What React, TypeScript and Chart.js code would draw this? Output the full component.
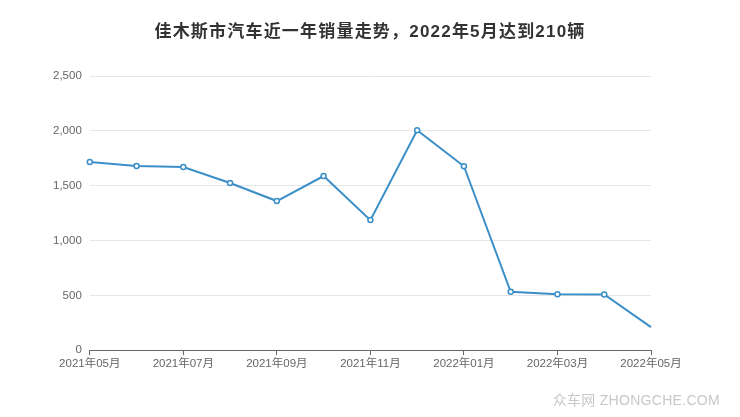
import React, { useEffect, useRef } from "react";
import { Chart, registerables } from "chart.js";

Chart.register(...registerables);

const titleText = "佳木斯市汽车近一年销量走势，2022年5月达到210辆";
const categories = [
  "2021年05月", "2021年06月", "2021年07月", "2021年08月", "2021年09月", "2021年10月",
  "2021年11月", "2021年12月", "2022年01月", "2022年02月", "2022年03月", "2022年04月", "2022年05月",
];
const sales = [1715, 1680, 1670, 1524, 1360, 1588, 1186, 2005, 1677, 532, 510, 508, 210];
const yTicks = [0, 500, 1000, 1500, 2000, 2500];

const FONT = "'Liberation Sans', Arial, 'Noto Sans CJK SC', sans-serif";
const LINE = "#3a8fc8";

export default function App() {
  const ref = useRef<HTMLCanvasElement>(null);
  useEffect(() => {
    if (!ref.current) return;
    const chart = new Chart(ref.current, {
      type: "line",
      data: {
        labels: categories,
        datasets: [
          {
            data: sales,
            borderColor: LINE,
            borderWidth: 2,
            backgroundColor: "#ffffff",
            pointBackgroundColor: "#ffffff",
            pointBorderColor: LINE,
            pointBorderWidth: 1.5,
            pointRadius: (ctx: any) => (ctx.dataIndex === sales.length - 1 ? 0 : 2.5),
            tension: 0,
            fill: false,
          },
        ],
      },
      options: {
        animation: false,
        responsive: false,
        layout: { padding: { left: 45, right: 89, top: 76, bottom: 44 } },
        plugins: {
          legend: { display: false },
          tooltip: { enabled: false },
          title: { display: false },
        },
        scales: {
          x: {
            grid: {
              drawOnChartArea: false,
              drawTicks: true,
              tickLength: 5,
              color: (ctx: any) => (ctx.index % 2 === 0 ? "#666666" : "rgba(0,0,0,0)"),
            },
            border: { display: true, color: "#666666", width: 1 },
            ticks: {
              autoSkip: false,
              maxRotation: 0,
              padding: 2,
              color: "#666666",
              font: { family: FONT, size: 11.5 },
              callback: (_v: any, i: number) => (i % 2 === 0 ? categories[i] : ""),
            },
          },
          y: {
            min: yTicks[0],
            max: yTicks[yTicks.length - 1],
            grid: { color: "#e6e6e6", drawTicks: false },
            border: { display: false },
            afterBuildTicks: (axis: any) => {
              axis.ticks = yTicks.map((v) => ({ value: v }));
            },
            ticks: {
              padding: 8,
              color: "#666666",
              font: { family: FONT, size: 11.5 },
              callback: (v: any) => Number(v).toLocaleString("en-US"),
            },
          },
        },
      },
    });
    return () => chart.destroy();
  }, []);
  return (
    <div style={{ position: "fixed", left: 0, top: 0, width: 740, height: 417, background: "#fff" }}>
      <canvas ref={ref} width={740} height={417} style={{ width: 740, height: 417 }} />
      <div
        style={{
          position: "absolute",
          left: 0,
          top: 22,
          width: 740,
          textAlign: "center",
          fontFamily: FONT,
          fontSize: 17,
          lineHeight: "20px",
          fontWeight: "bold",
          color: "#333333",
          letterSpacing: 1.2,
          whiteSpace: "nowrap",
        }}
      >
        {titleText}
      </div>
      <div
        style={{
          position: "absolute",
          right: 20,
          top: 389,
          fontFamily: FONT,
          fontSize: 14,
          color: "#c8c8c8",
          letterSpacing: 0.3,
          whiteSpace: "nowrap",
        }}
      >
        众车网 ZHONGCHE.COM
      </div>
    </div>
  );
}
